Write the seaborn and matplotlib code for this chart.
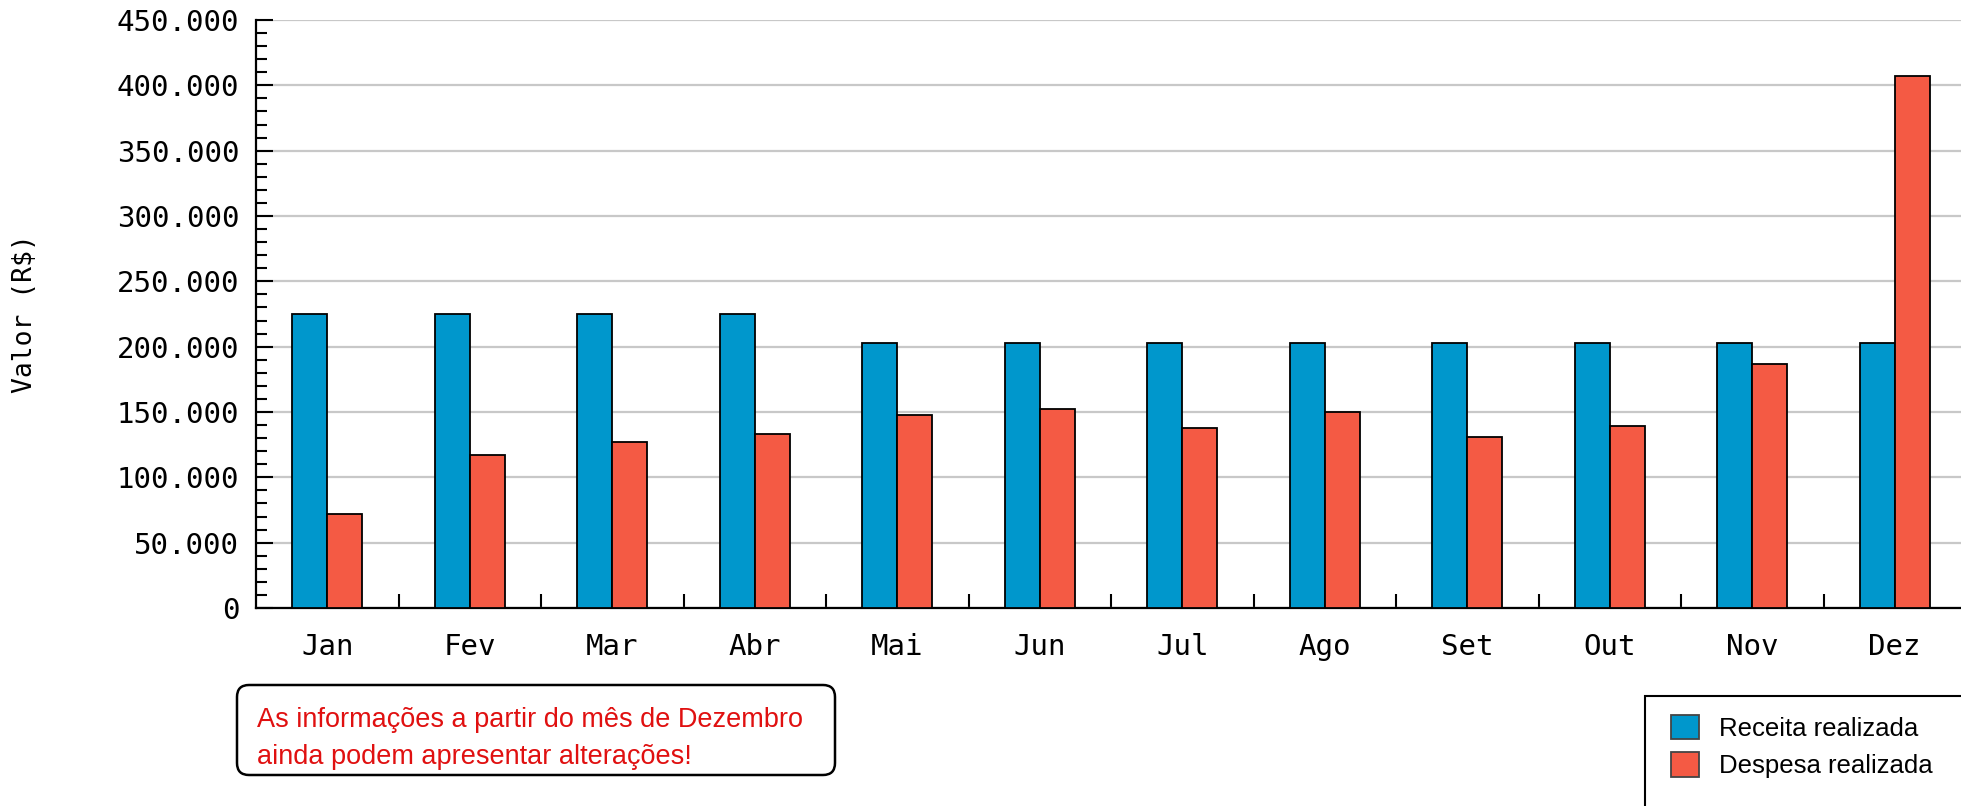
import numpy as np
import pandas as pd
import matplotlib.pyplot as plt
import seaborn as sns
from matplotlib.patches import FancyBboxPatch, Rectangle
from matplotlib.transforms import IdentityTransform
from matplotlib.ticker import FuncFormatter, MultipleLocator, FixedLocator

# Values (R$)
meses = ['Jan', 'Fev', 'Mar', 'Abr', 'Mai', 'Jun', 'Jul', 'Ago', 'Set', 'Out', 'Nov', 'Dez']
receita = [225000, 225000, 225000, 225000, 203000, 203000, 203000, 203000, 203000, 203000, 203000, 203000]
despesa = [72000, 117000, 127000, 133000, 148000, 152000, 138000, 150000, 131000, 139000, 187000, 407000]
series = ['Receita realizada', 'Despesa realizada']
cores = ['#0097CC', '#F45A44']

df = pd.DataFrame({
    'mes': meses * 2,
    'valor': receita + despesa,
    'serie': [series[0]] * len(meses) + [series[1]] * len(meses),
})

sns.set_style('white')
W, H = 1961, 806
fig = plt.figure(figsize=(W / 100, H / 100), dpi=100)
ax = fig.add_axes([256 / W, 198 / H, 1710 / W, 588 / H])

sns.barplot(data=df, x='mes', y='valor', hue='serie', palette=cores,
            width=0.49, edgecolor='black', linewidth=1.3, saturation=1,
            ax=ax, zorder=3)

mono = 'DejaVu Sans Mono'
ax.set_ylim(0, 450000)
ax.set_xlim(-0.5, len(meses) - 0.5)
ax.yaxis.set_major_locator(MultipleLocator(50000))
ax.yaxis.set_minor_locator(MultipleLocator(10000))
ax.yaxis.set_major_formatter(FuncFormatter(lambda v, p: f'{int(v):,}'.replace(',', '.')))
ax.xaxis.set_minor_locator(FixedLocator(np.arange(0.5, len(meses) - 0.5, 1)))

ax.tick_params(which='both', left=True, bottom=True, colors='black', labelcolor='black')
ax.tick_params(axis='y', which='major', direction='in', length=12, width=1.5, pad=12, labelsize=21)
ax.tick_params(axis='y', which='minor', direction='in', length=8, width=1.5)
ax.tick_params(axis='x', which='major', length=0, pad=18, labelsize=21)
ax.tick_params(axis='x', which='minor', direction='in', length=10, width=1.5)
for lab in ax.get_xticklabels() + ax.get_yticklabels():
    lab.set_fontfamily(mono)

ax.grid(axis='y', color='#c8c8c8', linewidth=1.6, zorder=0)
ax.set_axisbelow(True)
for s in ['top', 'right']:
    ax.spines[s].set_visible(False)
for s in ['left', 'bottom']:
    ax.spines[s].set_linewidth(1.6)
    ax.spines[s].set_color('black')

ax.set_xlabel('')
ax.set_ylabel('')
fig.text(25 / W, 1 - 314 / H, 'Valor (R$)', rotation=90, ha='center', va='center',
         fontsize=19, family=mono, color='black')

# legend box at the bottom right, running off the figure edge
frame = Rectangle((1645, H - 696), 400, -200, transform=IdentityTransform(),
                  facecolor='white', edgecolor='black', linewidth=1.5)
fig.add_artist(frame)
handles, labels = ax.get_legend_handles_labels()
ax.get_legend().remove()
leg = fig.legend(handles, labels, loc='upper left', bbox_to_anchor=(1650 / W, 1 - 694 / H),
                 bbox_transform=fig.transFigure, borderaxespad=0, frameon=False,
                 handlelength=1.1, handleheight=1.1,
                 handletextpad=0.8, labelspacing=0.45, borderpad=0.8,
                 prop={'family': 'Liberation Sans', 'size': 18.5})
for h in leg.legend_handles:
    h.set_edgecolor('#444444')
for t in leg.get_texts():
    t.set_color('black')

# note box
box = FancyBboxPatch((237, H - 775), 598, 90, boxstyle='round,pad=0,rounding_size=12',
                     transform=IdentityTransform(), facecolor='white',
                     edgecolor='black', linewidth=1.8)
fig.add_artist(box)
fig.text(257 / W, 1 - 720 / H, 'As informações a partir do mês de Dezembro',
         color='#E01010', fontsize=19.5, family='Liberation Sans', va='center', ha='left')
fig.text(257 / W, 1 - 757 / H, 'ainda podem apresentar alterações!',
         color='#E01010', fontsize=19.5, family='Liberation Sans', va='center', ha='left')

plt.savefig('out.png', dpi=100)
